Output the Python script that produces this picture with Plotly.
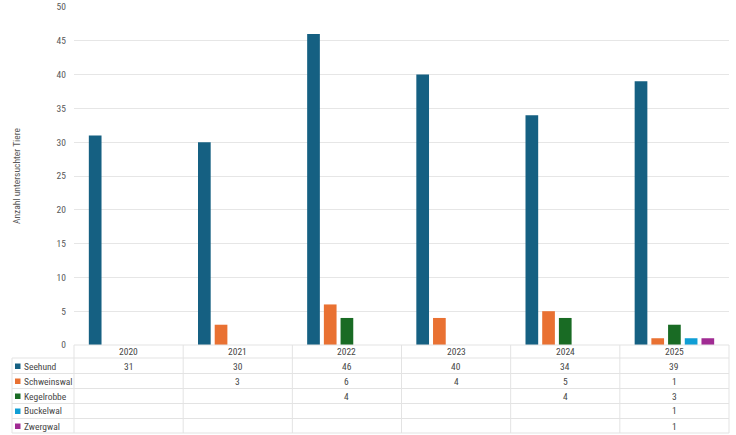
import plotly.graph_objects as go

years = ["2020", "2021", "2022", "2023", "2024", "2025"]
series_names = ["Seehund", "Schweinswal", "Kegelrobbe", "Buckelwal", "Zwergwal"]
seehund = [31, 30, 46, 40, 34, 39]
schweinswal = [None, 3, 6, 4, 5, 1]
kegelrobbe = [None, None, 4, None, 4, 3]
buckelwal = [None, None, None, None, None, 1]
zwergwal = [None, None, None, None, None, 1]
colors = ["#156082", "#E97132", "#196B24", "#0F9ED5", "#A02B93"]
y_title = "Anzahl untersuchter Tiere"

all_series = [seehund, schweinswal, kegelrobbe, buckelwal, zwergwal]

W, H = 736, 435
L, R, T, B = 74, 7, 7, 90
PW = W - L - R
PH = H - T - B
FONT = "Liberation Sans Narrow, Roboto Condensed, Arial Narrow, sans-serif"


def px_x(px):
    return (px - L) / PW


def px_y(py):
    return (H - B - py) / PH


fig = go.Figure()
for name, vals, col in zip(series_names, all_series, colors):
    fig.add_trace(go.Bar(x=years, y=vals, name=name, marker=dict(color=col, line=dict(width=0))))

shapes = []
annotations = []
grid_col = "#E3E3E3"
row_lines = [358, 373.5, 388.5, 403.5, 418.5, 433]
shapes.append(dict(type="line", xref="paper", yref="paper", x0=0, x1=1,
                   y0=px_y(345), y1=px_y(345), line=dict(color=grid_col, width=1)))
for ry in row_lines:
    shapes.append(dict(type="line", xref="paper", yref="paper", x0=px_x(12), x1=1,
                       y0=px_y(ry), y1=px_y(ry), line=dict(color=grid_col, width=1)))
shapes.append(dict(type="line", xref="paper", yref="paper", x0=px_x(12), x1=px_x(12),
                   y0=px_y(358), y1=px_y(433), line=dict(color=grid_col, width=1)))
for i in range(len(years) + 1):
    xv = i / len(years)
    shapes.append(dict(type="line", xref="paper", yref="paper", x0=xv, x1=xv,
                       y0=px_y(345), y1=px_y(433), line=dict(color=grid_col, width=1)))

text_col = "#474747"
for i, yr in enumerate(years):
    annotations.append(dict(x=i, y=px_y(351.5), xref="x", yref="paper", text=yr,
                            showarrow=False, font=dict(size=9.5, color=text_col, family=FONT),
                            xanchor="center", yanchor="middle"))
row_centers = [366, 381, 396, 411, 426]
for name, vals, col, rc in zip(series_names, all_series, colors, row_centers):
    shapes.append(dict(type="rect", xref="paper", yref="paper",
                       x0=px_x(15), x1=px_x(20.5), y0=px_y(rc - 2.5), y1=px_y(rc + 3),
                       fillcolor=col, line=dict(width=0)))
    annotations.append(dict(x=px_x(21.5), y=px_y(rc), xref="paper", yref="paper", text=name,
                            showarrow=False, font=dict(size=9.5, color=text_col, family=FONT),
                            xanchor="left", yanchor="middle"))
    for i, v in enumerate(vals):
        if v is not None:
            annotations.append(dict(x=i, y=px_y(rc), xref="x", yref="paper", text=str(v),
                                    showarrow=False, font=dict(size=9.5, color=text_col, family=FONT),
                                    xanchor="center", yanchor="middle"))

annotations.append(dict(x=px_x(16), y=0.5, xref="paper", yref="paper", text=y_title,
                        textangle=-90, showarrow=False,
                        font=dict(size=9.5, color="#595959", family=FONT),
                        xanchor="center", yanchor="middle"))

fig.update_layout(
    width=W, height=H,
    margin=dict(l=L, r=R, t=T, b=B, pad=0, autoexpand=False),
    paper_bgcolor="white", plot_bgcolor="white",
    barmode="group", bargap=0.235, bargroupgap=0.24,
    showlegend=False,
    font=dict(family=FONT, size=9.5, color="#595959"),
    xaxis=dict(type="category", range=[-0.5, len(years) - 0.5], showticklabels=False,
               showgrid=False, zeroline=False, showline=False, ticks="", automargin=False),
    yaxis=dict(range=[0, 50], dtick=5, showgrid=True, gridcolor="#E6E6E6", gridwidth=1,
               zeroline=False, showline=False, ticks="", ticklabelstandoff=7, automargin=False,
               tickfont=dict(size=9.5, color="#595959", family=FONT)),
    shapes=shapes, annotations=annotations,
)

fig.write_html("out.html")
